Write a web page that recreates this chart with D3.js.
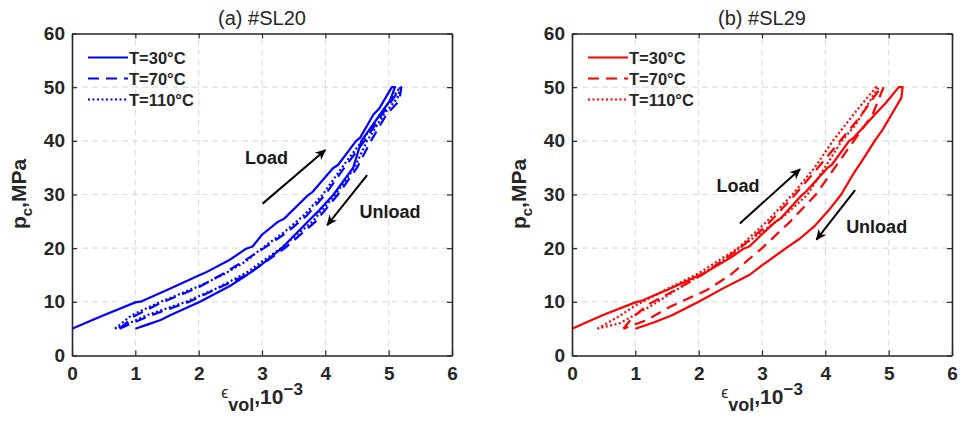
<!DOCTYPE html>
<html>
<head>
<meta charset="utf-8">
<script src="https://cdn.jsdelivr.net/npm/d3@7"></script>
<style>
  body { margin: 0; background: #fff; }
  text { font-family: "Liberation Sans", Arial, sans-serif; }
</style>
</head>
<body>
<div id="chart"></div>
<script>
var width = 966, height = 433;

// axis ticks
var xTicks = [0, 1, 2, 3, 4, 5, 6];
var yTicks = [0, 10, 20, 30, 40, 50, 60];
var legendLabels = ["T=30\u00B0C", "T=70\u00B0C", "T=110\u00B0C"];
var panelTitles = ["(a) #SL20", "(b) #SL29"];

// #SL20 loops, [strain 1e-3, pc MPa], loading then unloading
var sl20_30 = [[0,5],[0.5,7.5],[1.0,9.9],[1.1,10.1],[1.5,12.2],[2.0,14.9],[2.1,15.4],[2.5,17.9],[2.75,19.9],[2.85,20.3],
  [3.0,22.5],[3.25,24.9],[3.35,25.5],[3.73,29.9],[3.8,30.5],[4.12,34.9],[4.2,35.5],[4.48,39.9],[4.55,40.6],[4.76,44.9],
  [4.85,46],[5.05,50],[5.1,50],[5.02,47.5],[4.87,45],[4.57,40],[4.44,35],[4.13,30],[3.9,27],[3.73,25],[3.31,20],
  [3.0,17],[2.76,15],[2.5,13],[2.02,10],[1.55,7.5],[1.4,6.6],[1.2,5.8],[1.0,5]];
var sl20_70 = [[0.75,5],[0.98,7.3],[1.4,9.8],[2.0,12.7],[2.35,15],[2.7,17.5],[3.03,20],[3.4,23],[3.7,26],[4.0,30],
  [4.3,35],[4.62,40],[4.9,45],[5.2,50],[5.17,47.5],[4.97,45],[4.72,40],[4.5,35],[4.2,30],[3.85,25],[3.36,20],
  [2.8,15.3],[2.3,12.5],[1.85,10],[1.25,7.5],[0.95,6],[0.75,5]];
var sl20_110 = [[0.68,5],[0.94,7.5],[1.38,9.9],[2.0,12.9],[2.38,15],[2.74,17.5],[3.0,20],[3.35,23],[3.65,26],[3.96,30],
  [4.26,35],[4.58,40],[4.87,45],[5.18,50],[5.14,48],[4.93,45],[4.66,40],[4.46,35],[4.16,30],[3.8,25],[3.3,20],
  [2.75,15.4],[2.3,12.6],[1.8,10],[1.18,7.5],[0.9,6],[0.68,5]];

// #SL29 loops
var sl29_30 = [[0,5],[0.5,7.6],[1.0,9.9],[1.1,10.2],[1.5,12.2],[2.0,14.9],[2.1,15.4],[2.5,18.2],[2.71,19.9],[2.8,20.3],
  [3.0,22.6],[3.21,24.9],[3.3,25.6],[3.63,29.9],[3.7,30.6],[4.03,34.9],[4.1,35.5],[4.37,39.9],[4.45,40.6],[4.79,45],
  [4.95,47],[5.16,50],[5.22,50],[5.2,48],[5.05,45],[4.9,42],[4.78,40],[4.62,37],[4.45,34],[4.25,30],[4.05,27],
  [3.82,24],[3.6,21.8],[3.38,20],[3.0,16.8],[2.8,15],[2.4,12.6],[2.0,10],[1.58,7.5],[1.3,6.2],[1.0,5]];
var sl29_70 = [[0.81,5],[0.95,7],[1.2,9.5],[1.6,12],[2.05,15],[2.6,19.5],[3.05,24],[3.45,29],[3.85,34.5],[4.2,39.5],
  [4.55,44.5],[4.88,50],[4.92,50],[4.75,45],[4.45,40],[4.15,35],[3.85,30],[3.45,25],[3.0,20],[2.5,15],[2.13,12.2],
  [1.55,9.1],[1.18,6.6],[0.81,5]];
var sl29_110 = [[0.4,5],[0.7,7],[1.0,9.3],[1.5,12.4],[2.0,15.3],[2.62,20],[3.08,25],[3.48,30],[3.83,35],[4.12,40],
  [4.45,45],[4.8,50],[4.84,50],[4.68,47],[4.48,43],[4.26,40],[3.99,35],[3.72,30],[3.35,26],[2.86,21.9],[2.3,17],
  [1.86,13.8],[1.23,9.1],[0.75,6],[0.4,5]];

var panels = [
  { left: 72, color: "#0000ff", series: [sl20_30, sl20_70, sl20_110],
    load: [[3.01,28.3],[4.0,38.3]], loadText: [3.07,37],
    unload: [[4.66,33.6],[4.03,24.3]], unloadText: [5.02,27] },
  { left: 572, color: "#ff0000", series: [sl29_30, sl29_70, sl29_110],
    load: [[2.65,24.6],[3.6,34.7]], loadText: [2.62,31.7],
    unload: [[4.47,30.8],[3.86,21.6]], unloadText: [4.81,24.2] }
];

var dashes = [null, "11,7", "2,2.5"];
var axisColor = "#262626";

var svg = d3.select("#chart").append("svg")
  .attr("width", width).attr("height", height);

var defs = svg.append("defs");
defs.append("marker")
  .attr("id", "arrow").attr("viewBox", "0 0 10 10")
  .attr("refX", 9).attr("refY", 5)
  .attr("markerWidth", 5.5).attr("markerHeight", 5.5)
  .attr("orient", "auto")
  .append("path").attr("d", "M0,0.5 L10,5 L0,9.5 L3,5 Z").attr("fill", "#000");

function drawPanel(p, idx) {
  var x = d3.scaleLinear().domain([0, 6]).range([p.left, p.left + 380]);
  var y = d3.scaleLinear().domain([0, 60]).range([355.5, 33.5]);
  var g = svg.append("g");

  // grid
  g.selectAll(".gx").data(xTicks.slice(1, -1)).enter().append("line")
    .attr("x1", d => x(d)).attr("x2", d => x(d))
    .attr("y1", y(0)).attr("y2", y(60))
    .attr("stroke", "#dedede").attr("stroke-width", 1.2).attr("stroke-dasharray", "6,4");
  g.selectAll(".gy").data(yTicks.slice(1, -1)).enter().append("line")
    .attr("x1", x(0)).attr("x2", x(6))
    .attr("y1", d => y(d)).attr("y2", d => y(d))
    .attr("stroke", "#dedede").attr("stroke-width", 1.2).attr("stroke-dasharray", "6,4");

  // curves
  var line = d3.line().x(d => x(d[0])).y(d => y(d[1]));
  p.series.forEach(function(s, i) {
    g.append("path").attr("d", line(s))
      .attr("fill", "none").attr("stroke", p.color)
      .attr("stroke-width", 2.2)
      .attr("stroke-linejoin", "round")
      .attr("stroke-dasharray", dashes[i]);
  });

  // axes, ticks inward on all sides
  g.append("g").attr("transform", "translate(0," + y(0) + ")")
    .call(d3.axisBottom(x).tickValues(xTicks).tickFormat(d3.format("d"))
      .tickSizeInner(-5).tickSizeOuter(0).tickPadding(11));
  g.append("g").attr("transform", "translate(" + x(0) + ",0)")
    .call(d3.axisLeft(y).tickValues(yTicks).tickFormat(d3.format("d"))
      .tickSizeInner(-5).tickSizeOuter(0).tickPadding(7));
  g.append("g").attr("transform", "translate(0," + y(60) + ")")
    .call(d3.axisTop(x).tickValues(xTicks).tickSizeInner(-5).tickSizeOuter(0).tickFormat(""));
  g.append("g").attr("transform", "translate(" + x(6) + ",0)")
    .call(d3.axisRight(y).tickValues(yTicks).tickSizeInner(-5).tickSizeOuter(0).tickFormat(""));
  g.selectAll(".domain").attr("stroke", axisColor).attr("stroke-width", 1.6);
  g.selectAll(".tick line").attr("stroke", axisColor).attr("stroke-width", 1.2);
  g.selectAll(".tick text").attr("fill", axisColor)
    .style("font-size", "19px").style("font-weight", "bold")
    .style("font-family", "'Liberation Sans', Arial, sans-serif");

  // title
  g.append("text").attr("x", x(3)).attr("y", 25).attr("text-anchor", "middle")
    .attr("fill", axisColor).style("font-size", "20px").text(panelTitles[idx]);

  // y label
  var yl = g.append("text")
    .attr("transform", "translate(" + (p.left - 46) + "," + 194 + ") rotate(-90)")
    .attr("text-anchor", "middle").attr("fill", axisColor)
    .style("font-size", "21px").style("font-weight", "bold");
  yl.append("tspan").text("p");
  yl.append("tspan").attr("dy", 6).style("font-size", "15px").text("c");
  yl.append("tspan").attr("dy", -6).text(",MPa");

  // x label
  var xl = g.append("text").attr("x", x(3)).attr("y", 404)
    .attr("text-anchor", "middle").attr("fill", axisColor)
    .style("font-weight", "bold").style("font-size", "21px");
  xl.append("tspan").attr("dy", -6).style("font-weight", "normal").style("font-size", "16px").text("\u03F5");
  xl.append("tspan").attr("dy", 13).style("font-size", "18px").text("vol");
  xl.append("tspan").attr("dy", -7).text(",10");
  xl.append("tspan").attr("dy", -9).style("font-size", "17px").text("\u22123");

  // legend
  legendLabels.forEach(function(lab, i) {
    var ly = 57.5 + i * 21;
    g.append("line").attr("x1", p.left + 16).attr("x2", p.left + 56)
      .attr("y1", ly).attr("y2", ly)
      .attr("stroke", p.color).attr("stroke-width", 2.2)
      .attr("stroke-dasharray", dashes[i]);
    g.append("text").attr("x", p.left + 57).attr("y", ly + 6)
      .attr("fill", axisColor).style("font-size", "16.5px").style("font-weight", "bold").text(lab);
  });

  // load / unload arrows
  [p.load, p.unload].forEach(function(a) {
    g.append("line")
      .attr("x1", x(a[0][0])).attr("y1", y(a[0][1]))
      .attr("x2", x(a[1][0])).attr("y2", y(a[1][1]))
      .attr("stroke", "#000").attr("stroke-width", 2)
      .attr("marker-end", "url(#arrow)");
  });
  g.append("text").attr("x", x(p.loadText[0])).attr("y", y(p.loadText[1]) + 7)
    .attr("text-anchor", "middle").attr("fill", "#1a1a1a")
    .style("font-size", "18px").style("font-weight", "bold").text("Load");
  g.append("text").attr("x", x(p.unloadText[0])).attr("y", y(p.unloadText[1]) + 7)
    .attr("text-anchor", "middle").attr("fill", "#1a1a1a")
    .style("font-size", "18px").style("font-weight", "bold").text("Unload");
}

panels.forEach(drawPanel);
</script>
</body>
</html>
